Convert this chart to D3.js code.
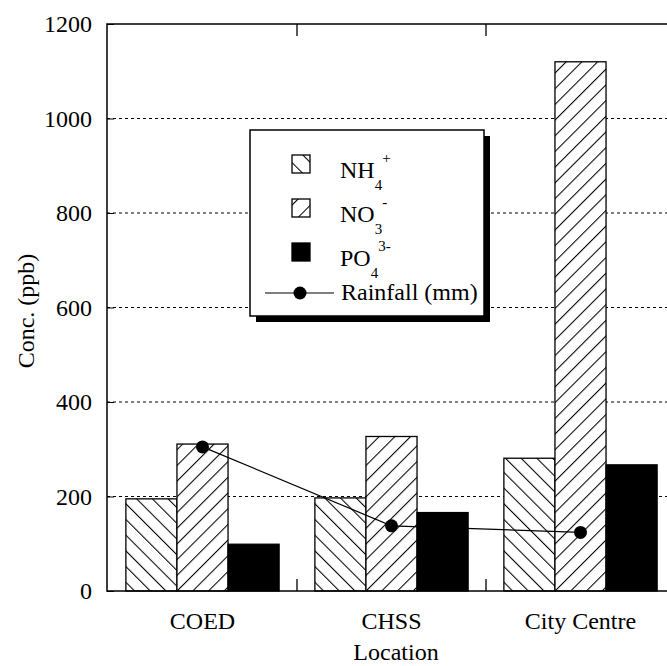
<!DOCTYPE html>
<html>
<head>
<meta charset="utf-8">
<script src="https://d3js.org/d3.v7.min.js"></script>
<style>
  body { margin: 0; background: #fff; }
  text { font-family: 'Liberation Serif', 'Times New Roman', serif; fill: #000; }
</style>
</head>
<body>
<script>
var w = 667,
    h = 666;

// Data
var locations = ['COED', 'CHSS', 'City Centre'];
var series = ['NH4', 'NO3', 'PO4'];
var nh4 = [195, 197, 281];
var no3 = [311, 327, 1120];
var po4 = [99, 166, 267];
var rainfall = [305, 138, 124];
var yTicks = [0, 200, 400, 600, 800, 1000, 1200];

var values = { NH4: nh4, NO3: no3, PO4: po4 };

// plot box (right edge falls just outside the picture)
var plotLeft = 107,
    plotRight = 675,
    plotTop = 24,
    plotBottom = 591;

var fontSize = '24px';

var svg = d3.select('body')
            .append('svg')
            .attr('width', w)
            .attr('height', h);

// Hatch patterns
var defs = svg.append('defs');
function hatch(id, angle, size) {
  var p = defs.append('pattern')
              .attr('id', id)
              .attr('patternUnits', 'userSpaceOnUse')
              .attr('width', size)
              .attr('height', size)
              .attr('patternTransform', 'rotate(' + angle + ')');
  p.append('rect')
   .attr('width', size)
   .attr('height', size)
   .attr('fill', '#fff');
  p.append('line')
   .attr('x1', 0.5).attr('y1', 0)
   .attr('x2', 0.5).attr('y2', size)
   .attr('stroke', '#000')
   .attr('stroke-width', 1.1);
}
hatch('back', -45, 11.1);  // NH4  "\\\\"
hatch('fwd', 45, 11.1);    // NO3  "////"
hatch('backL', -45, 13);
hatch('fwdL', 45, 13);

var fills = { NH4: 'url(#back)', NO3: 'url(#fwd)', PO4: '#000' };
var legendFills = { NH4: 'url(#backL)', NO3: 'url(#fwdL)', PO4: '#000' };

var x0 = d3.scaleBand()
           .domain(locations)
           .range([plotLeft + 1, plotRight]);

var x1 = d3.scaleBand()
           .domain(series)
           .range([0, x0.bandwidth()])
           .paddingOuter(0.35);

var y = d3.scaleLinear()
          .domain([0, 1200])
          .range([plotBottom, plotTop]);

// Dotted gridlines
svg.append('g')
   .selectAll('line')
   .data(yTicks.filter(function(d) { return d > 0 && d < 1200; }))
   .enter()
   .append('line')
   .attr('x1', plotLeft)
   .attr('x2', plotRight)
   .attr('y1', function(d) { return y(d); })
   .attr('y2', function(d) { return y(d); })
   .attr('stroke', '#000')
   .attr('stroke-width', 1)
   .attr('stroke-dasharray', '3,3');

// Bars
var groups = svg.append('g')
                .selectAll('g')
                .data(locations)
                .enter()
                .append('g')
                .attr('transform', function(d) { return 'translate(' + x0(d) + ',0)'; });

groups.selectAll('rect')
      .data(function(d, i) {
        return series.map(function(s) { return { key: s, value: values[s][i] }; });
      })
      .enter()
      .append('rect')
      .attr('x', function(d) { return x1(d.key); })
      .attr('y', function(d) { return y(d.value); })
      .attr('width', x1.bandwidth())
      .attr('height', function(d) { return y(0) - y(d.value); })
      .attr('fill', function(d) { return fills[d.key]; })
      .attr('stroke', '#000')
      .attr('stroke-width', 1.3);

// Axes: left with inward ticks, right ticks only
var yAxis = d3.axisLeft(y)
              .tickValues(yTicks)
              .tickSize(-7)
              .tickPadding(15)
              .tickFormat(d3.format('d'));

var gy = svg.append('g')
            .attr('transform', 'translate(' + plotLeft + ',0)')
            .call(yAxis);
gy.select('.domain').remove();
gy.selectAll('text')
  .style('font-size', fontSize)
  .style('font-family', "'Liberation Serif', serif");

var yAxisR = d3.axisRight(y)
               .tickValues(yTicks)
               .tickSize(-7)
               .tickFormat('');
var gyr = svg.append('g')
             .attr('transform', 'translate(' + plotRight + ',0)')
             .call(yAxisR);
gyr.select('.domain').remove();

var xAxis = d3.axisBottom(x0)
              .tickSize(0)
              .tickPadding(21);
var gx = svg.append('g')
            .attr('transform', 'translate(0,' + plotBottom + ')')
            .call(xAxis);
gx.select('.domain').remove();
gx.selectAll('text')
  .style('font-size', fontSize)
  .style('font-family', "'Liberation Serif', serif");

// Separator ticks between locations, at bottom (up) and top (down)
var seps = locations.slice(1).map(function(d) { return x0(d); });
svg.append('g')
   .selectAll('line')
   .data(seps)
   .enter()
   .append('line')
   .attr('x1', function(d) { return d; })
   .attr('x2', function(d) { return d; })
   .attr('y1', plotBottom)
   .attr('y2', plotBottom - 12)
   .attr('stroke', '#000')
   .attr('stroke-width', 1.3);
svg.append('g')
   .selectAll('line')
   .data(seps)
   .enter()
   .append('line')
   .attr('x1', function(d) { return d; })
   .attr('x2', function(d) { return d; })
   .attr('y1', plotTop)
   .attr('y2', plotTop + 12)
   .attr('stroke', '#000')
   .attr('stroke-width', 1.3);

// Frame
svg.append('rect')
   .attr('x', plotLeft)
   .attr('y', plotTop)
   .attr('width', plotRight - plotLeft)
   .attr('height', plotBottom - plotTop)
   .attr('fill', 'none')
   .attr('stroke', '#000')
   .attr('stroke-width', 1.5);

// Rainfall line
var line = d3.line()
             .x(function(d, i) { return x0(locations[i]) + x0.bandwidth() / 2; })
             .y(function(d) { return y(d); });

svg.append('path')
   .datum(rainfall)
   .attr('d', line)
   .attr('fill', 'none')
   .attr('stroke', '#000')
   .attr('stroke-width', 1.2);

svg.append('g')
   .selectAll('circle')
   .data(rainfall)
   .enter()
   .append('circle')
   .attr('cx', function(d, i) { return x0(locations[i]) + x0.bandwidth() / 2; })
   .attr('cy', function(d) { return y(d); })
   .attr('r', 6.5)
   .attr('fill', '#000');

// Axis titles
svg.append('text')
   .attr('x', 396)
   .attr('y', 660)
   .attr('text-anchor', 'middle')
   .style('font-size', fontSize)
   .text('Location');

svg.append('text')
   .attr('transform', 'translate(34,311) rotate(-90)')
   .attr('text-anchor', 'middle')
   .style('font-size', fontSize)
   .text('Conc. (ppb)');

// Legend with drop shadow
var lg = svg.append('g');
lg.append('rect')
  .attr('x', 256)
  .attr('y', 136)
  .attr('width', 234)
  .attr('height', 186)
  .attr('fill', '#000');
lg.append('rect')
  .attr('x', 250)
  .attr('y', 130)
  .attr('width', 234)
  .attr('height', 186)
  .attr('fill', '#fff')
  .attr('stroke', '#000')
  .attr('stroke-width', 1.5);

var legendRows = [
  { key: 'NH4', main: 'NH', sub: '4', sup: '+', cy: 164 },
  { key: 'NO3', main: 'NO', sub: '3', sup: '-', cy: 208 },
  { key: 'PO4', main: 'PO', sub: '4', sup: '3-', cy: 252 }
];

legendRows.forEach(function(r) {
  lg.append('rect')
    .attr('x', 292)
    .attr('y', r.cy - 9)
    .attr('width', 18)
    .attr('height', 18)
    .attr('fill', legendFills[r.key])
    .attr('stroke', '#000')
    .attr('stroke-width', 1.3);

  var t = lg.append('text')
            .attr('x', 340)
            .attr('y', r.cy + 14)
            .style('font-size', fontSize);
  t.append('tspan').text(r.main);
  t.append('tspan')
   .attr('dy', 12)
   .style('font-size', '15px')
   .text(r.sub);
  t.append('tspan')
   .attr('dy', -27)
   .style('font-size', '15px')
   .text(r.sup);
});

lg.append('line')
  .attr('x1', 265)
  .attr('x2', 334)
  .attr('y1', 293)
  .attr('y2', 293)
  .attr('stroke', '#000')
  .attr('stroke-width', 1.2);
lg.append('circle')
  .attr('cx', 300)
  .attr('cy', 293)
  .attr('r', 6.5)
  .attr('fill', '#000');
lg.append('text')
  .attr('x', 341)
  .attr('y', 300)
  .style('font-size', fontSize)
  .text('Rainfall (mm)');
</script>
</body>
</html>
